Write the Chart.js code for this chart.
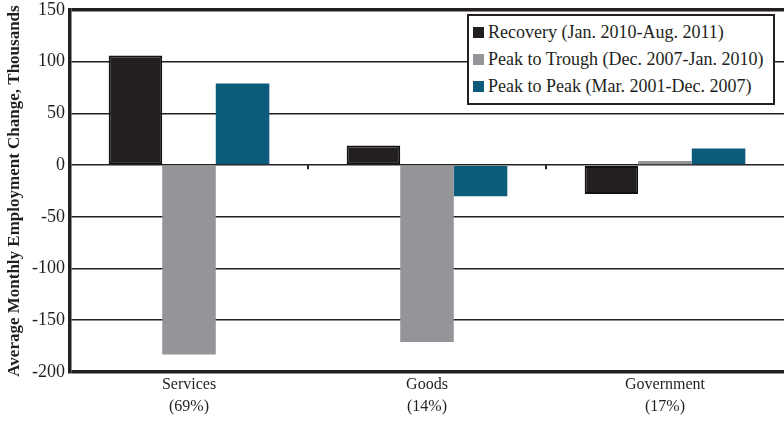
<!DOCTYPE html>
<html>
<head>
<meta charset="utf-8">
<script src="https://cdn.jsdelivr.net/npm/chart.js@4"></script>
<style>
  html, body { margin: 0; padding: 0; background: #fff; }
  #wrap { position: relative; width: 784px; height: 421px; }
  #legend {
    position: absolute; left: 467px; top: 14px; width: 304px; height: 84px;
    border: 2px solid #231f20; background: #fff;
    font-family: "Liberation Serif", "DejaVu Serif", serif; font-size: 18px; color: #231f20;
    padding-top: 3px; box-sizing: content-box;
  }
  .item { display: flex; align-items: center; height: 27px; padding-left: 4px; }
  .swatch { width: 11px; height: 11px; margin-right: 4px; flex: none; }
</style>
</head>
<body>
<div id="wrap">
  <canvas id="chart" width="784" height="421"></canvas>
  <div id="legend"></div>
</div>
<script>
// ----- Data -----
const categories = [['Services', '(69%)'], ['Goods', '(14%)'], ['Government', '(17%)']];
const seriesNames = [
  'Recovery (Jan. 2010-Aug. 2011)',
  'Peak to Trough (Dec. 2007-Jan. 2010)',
  'Peak to Peak (Mar. 2001-Dec. 2007)'
];
const recovery = [106, 19, -28];
const peakToTrough = [-183, -171, 4];
const peakToPeak = [79, -30, 16];
const yTicks = [150, 100, 50, 0, -50, -100, -150, -200];

// ----- Styles -----
const ink = '#231f20';
const colors = ['#231f20', '#939598', '#0d5b7a'];
const serif = '"Liberation Serif", "DejaVu Serif", serif';

// small tick marks on the zero line between categories
const zeroTicks = {
  id: 'zeroTicks',
  afterDatasetsDraw(chart) {
    const { ctx, scales: { x, y } } = chart;
    const y0 = y.getPixelForValue(0);
    ctx.save();
    ctx.strokeStyle = ink;
    ctx.lineWidth = 2;
    for (let i = 0; i < categories.length - 1; i++) {
      const px = Math.round((x.getPixelForValue(i) + x.getPixelForValue(i + 1)) / 2);
      ctx.beginPath();
      ctx.moveTo(px, y0);
      ctx.lineTo(px, y0 + 4);
      ctx.stroke();
    }
    ctx.restore();
  }
};

const ctx = document.getElementById('chart').getContext('2d');

const chart = new Chart(ctx, {
  type: 'bar',
  data: {
    labels: categories,
    datasets: [recovery, peakToTrough, peakToPeak].map((values, i) => ({
      label: seriesNames[i],
      data: values,
      backgroundColor: colors[i],
      borderColor: i === 0 ? '#111' : colors[i],
      borderWidth: i === 0 ? 2 : 0,
      borderSkipped: false,
      categoryPercentage: 0.675,
      barPercentage: 1.0,
    }))
  },
  plugins: [zeroTicks],
  options: {
    responsive: false,
    animation: false,
    layout: { padding: { top: 10, right: 0, left: 0, bottom: 0 } },
    plugins: {
      legend: { display: false },
      tooltip: { enabled: false },
    },
    scales: {
      x: {
        grid: { display: false, drawTicks: false },
        border: { display: false },
        ticks: {
          color: ink,
          font: { family: serif, size: 16, lineHeight: 1.35 },
          padding: 2,
          maxRotation: 0,
        },
        afterFit: (scale) => { scale.height = 49; },
      },
      y: {
        min: -200,
        max: 150,
        afterBuildTicks: (scale) => {
          scale.ticks = yTicks.map(v => ({ value: v }));
        },
        grid: {
          color: ink,
          lineWidth: (c) => (c.tick && (c.tick.value === 150 || c.tick.value === -200)) ? 3.5 : 1.6,
          drawTicks: false,
        },
        border: { display: true, color: ink, width: 3.5 },
        ticks: {
          color: ink,
          font: { family: serif, size: 18 },
          padding: 5,
        },
        title: {
          display: true,
          text: 'Average Monthly Employment Change, Thousands',
          color: ink,
          font: { family: serif, size: 17, weight: 'bold' },
          padding: { top: 4, bottom: 0 },
        },
        afterFit: (scale) => {
          scale.width = 70;
          scale.paddingTop = 0;
          scale.paddingBottom = 0;
        },
      }
    }
  }
});

// ----- Legend -----
const legendEl = document.getElementById('legend');
legendEl.innerHTML = seriesNames.map((name, i) => `
  <div class="item"><span class="swatch" style="background:${colors[i]}"></span>${name}</div>
`).join('');
</script>
</body>
</html>
